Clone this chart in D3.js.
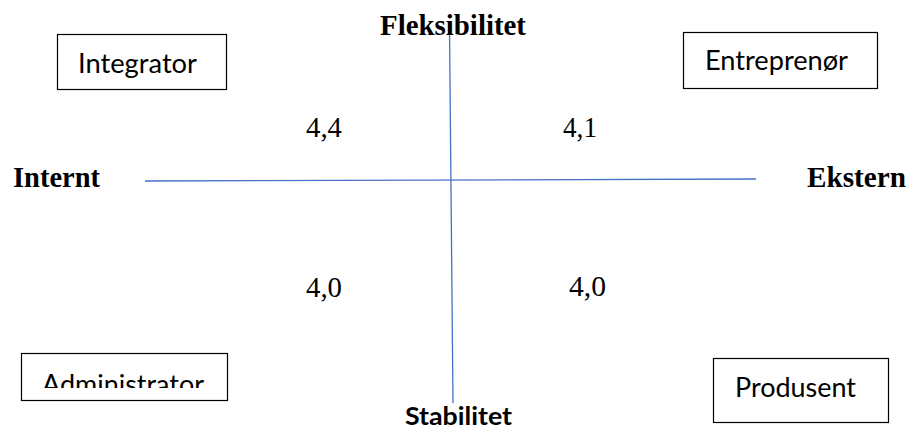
<!DOCTYPE html>
<html>
<head>
<meta charset="utf-8">
<script src="https://cdn.jsdelivr.net/npm/d3@7"></script>
<style>
  html, body { margin: 0; padding: 0; background: #fff; }
  svg { display: block; }
</style>
</head>
<body>
<svg id="chart" width="909" height="430"></svg>
<script>
// ---- data ----
const roles = ["Integrator", "Entreprenør", "Administrator", "Produsent"];
const quadrantValues = ["4,4", "4,1", "4,0", "4,0"];
const axisLabels = ["Fleksibilitet", "Stabilitet", "Internt", "Ekstern"];

// ---- layout ----
const W = 909, H = 430;
const svg = d3.select("#chart");
const x = d3.scaleLinear().domain([-1, 1]).range([145, 756]);
const yL = d3.scaleLinear().domain([-1, 1]).range([403, 27]); // vertical axis extent
const serif = "'Liberation Serif', 'Times New Roman', serif";
const sans = "Lato, 'Open Sans', sans-serif";
const blue = "#4472C4";

// axes lines (slightly tilted, like the original drawing)
svg.append("line")
  .attr("x1", x(-1)).attr("y1", 181)
  .attr("x2", x(1)).attr("y2", 179)
  .attr("stroke", blue).attr("stroke-width", 1.3);
svg.append("line")
  .attr("x1", 449.5).attr("y1", yL(1))
  .attr("x2", 453).attr("y2", yL(-1))
  .attr("stroke", blue).attr("stroke-width", 1.3);

// axis labels
const axisPos = [
  {x: 380, y: 35, w: 146, font: serif, size: 29},
  {x: 405, y: 425, w: 107, font: sans, size: 24},
  {x: 13, y: 187, w: 87, font: serif, size: 29},
  {x: 807, y: 187, w: 99, font: serif, size: 29}
];
svg.selectAll("text.axis").data(axisLabels).join("text")
  .attr("class", "axis")
  .attr("x", (d, i) => axisPos[i].x)
  .attr("y", (d, i) => axisPos[i].y)
  .attr("font-family", (d, i) => axisPos[i].font)
  .attr("font-size", (d, i) => axisPos[i].size)
  .attr("font-weight", "bold")
  .attr("fill", "#000")
  .attr("textLength", (d, i) => axisPos[i].w)
  .attr("lengthAdjust", "spacingAndGlyphs")
  .text(d => d);

// quadrant values
const valPos = [
  {x: 306, y: 137, w: 36},
  {x: 563, y: 137, w: 34},
  {x: 306, y: 297, w: 36},
  {x: 569, y: 296, w: 37}
];
svg.selectAll("text.val").data(quadrantValues).join("text")
  .attr("class", "val")
  .attr("x", (d, i) => valPos[i].x)
  .attr("y", (d, i) => valPos[i].y)
  .attr("font-family", serif)
  .attr("font-size", 29)
  .attr("fill", "#000")
  .attr("textLength", (d, i) => valPos[i].w)
  .attr("lengthAdjust", "spacingAndGlyphs")
  .text(d => d);

// role boxes
const boxPos = [
  {x0: 57, y0: 34, x1: 226, y1: 89, tx: 78, ty: 73, tw: 119, clip: null},
  {x0: 683, y0: 32, x1: 877, y1: 88, tx: 705, ty: 70, tw: 143, clip: null},
  {x0: 21, y0: 353, x1: 227, y1: 400, tx: 42, ty: 394, tw: 162, clip: 388},
  {x0: 713, y0: 358, x1: 888, y1: 422, tx: 735, ty: 397, tw: 121, clip: null}
];
const defs = svg.append("defs");
const g = svg.selectAll("g.role").data(roles).join("g").attr("class", "role");
g.append("rect")
  .attr("x", (d, i) => boxPos[i].x0 + 0.5)
  .attr("y", (d, i) => boxPos[i].y0 + 0.5)
  .attr("width", (d, i) => boxPos[i].x1 - boxPos[i].x0)
  .attr("height", (d, i) => boxPos[i].y1 - boxPos[i].y0)
  .attr("fill", "#fff")
  .attr("stroke", "#000")
  .attr("stroke-width", 1.2);
g.each(function(d, i) {
  const p = boxPos[i];
  if (p.clip !== null) {
    defs.append("clipPath").attr("id", "clip" + i)
      .append("rect").attr("x", p.x0).attr("y", p.y0)
      .attr("width", p.x1 - p.x0).attr("height", p.clip - p.y0);
  }
  d3.select(this).append("text")
    .attr("x", p.tx).attr("y", p.ty)
    .attr("font-family", sans)
    .attr("font-size", 26)
    .attr("fill", "#000")
    .attr("textLength", p.tw)
    .attr("lengthAdjust", "spacingAndGlyphs")
    .attr("clip-path", p.clip !== null ? "url(#clip" + i + ")" : null)
    .text(d);
});
</script>
</body>
</html>
